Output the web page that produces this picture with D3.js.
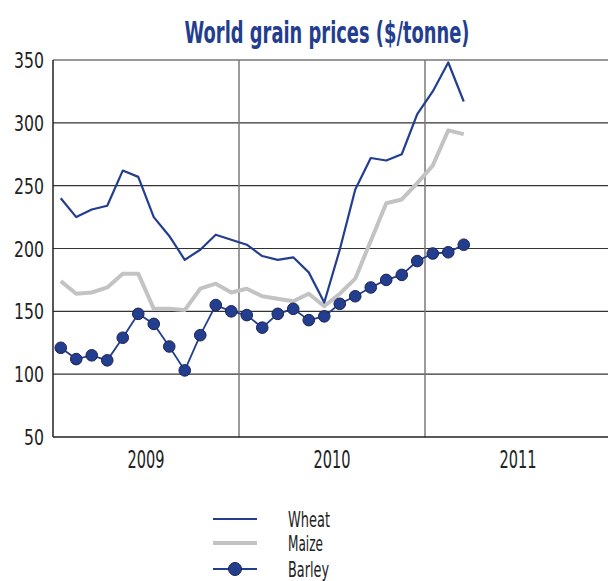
<!DOCTYPE html>
<html><head><meta charset="utf-8">
<script src="https://cdn.jsdelivr.net/npm/d3@7"></script>
<style>
body{margin:0;background:#fff;}
text{font-family:"DejaVu Sans",sans-serif;}
</style></head>
<body><svg id="c" width="608" height="581"></svg>
<script>
const years = ["2009","2010","2011"];
const yTicks = [50,100,150,200,250,300,350];
// monthly values, Jan 2009 .. Mar 2011
const wheat = [240,225,231,234,262,257,225,210,191,199,211,207,203,194,191,193,181,157,199,247,272,270,275,307,325,348,317];
const maize = [174,164,165,169,180,180,152,152,151,168,172,165,168,162,160,158,164,154,164,176,206,236,239,252,266,294,291];
const barley = [121,112,115,111,129,148,140,122,103,131,155,150,147,137,148,152,143,146,156,162,169,175,179,190,196,197,203];
const seriesNames = ["Wheat","Maize","Barley"];

const blue = "#233e8e";
const svg = d3.select("#c");
const L = 53, R = 608, T = 60, B = 437;
const x = d3.scaleLinear().domain([0,36]).range([L, 611]);
const y = d3.scaleLinear().domain([50,350]).range([B, T]);

// condensed text: scale horizontally to a target width
function condensed(g, px, py, str, size, w, anchor, attrs){
  const t = g.append("text").attr("x",0).attr("y",0).attr("font-size",size)
    .attr("text-anchor", anchor).text(str);
  Object.entries(attrs||{}).forEach(([k,v])=>t.attr(k,v));
  const natural = t.node().getComputedTextLength();
  t.attr("transform", `translate(${px},${py}) scale(${w/natural},1)`);
  return t;
}

// gridlines
svg.append("g").selectAll("line").data(yTicks.slice(1)).join("line")
  .attr("x1", L).attr("x2", R).attr("y1", d=>y(d)).attr("y2", d=>y(d))
  .attr("stroke", "#333").attr("stroke-width", 1.2);
// year separators
svg.append("g").selectAll("line").data([12,24]).join("line")
  .attr("x1", d=>x(d)).attr("x2", d=>x(d)).attr("y1", T).attr("y2", B)
  .attr("stroke", "#7a7a7a").attr("stroke-width", 1.5);
// axes lines
svg.append("line").attr("x1", L).attr("x2", L).attr("y1", T).attr("y2", B).attr("stroke","#222").attr("stroke-width",1.5);
svg.append("line").attr("x1", L).attr("x2", R).attr("y1", B).attr("y2", B).attr("stroke","#222").attr("stroke-width",1.5);

// y labels
const gy = svg.append("g");
yTicks.forEach(d=>condensed(gy, 44, y(d)+8, String(d), 22, String(d).length*10, "end", {fill:"#222"}));
// year labels
const gx = svg.append("g");
years.forEach((d,i)=>condensed(gx, x(i*12+6), 468, d, 25, 37, "middle", {fill:"#222"}));

// title
condensed(svg, 327, 43, "World grain prices ($/tonne)", 30, 285, "middle",
  {"font-weight":"bold", fill: blue});

const line = d3.line().x((d,i)=>x(i+0.5)).y(d=>y(d));
svg.append("path").datum(maize).attr("d", line).attr("fill","none")
  .attr("stroke","#c3c3c3").attr("stroke-width",4).attr("stroke-linejoin","round");
svg.append("path").datum(wheat).attr("d", line).attr("fill","none")
  .attr("stroke",blue).attr("stroke-width",2.2).attr("stroke-linejoin","round");
svg.append("path").datum(barley).attr("d", line).attr("fill","none")
  .attr("stroke",blue).attr("stroke-width",1.8);
svg.append("g").selectAll("circle").data(barley).join("circle")
  .attr("cx",(d,i)=>x(i+0.5)).attr("cy", d=>y(d)).attr("r",5.8)
  .attr("fill",blue).attr("stroke","#1c2450").attr("stroke-width",1);

// legend
const lg = svg.append("g");
const ly = [519, 543, 569];
const lw = [42, 35, 41];
seriesNames.forEach((n,i)=>{
  lg.append("line").attr("x1",213).attr("x2",257).attr("y1",ly[i]).attr("y2",ly[i])
    .attr("stroke", i===1 ? "#c3c3c3" : blue).attr("stroke-width", i===1 ? 4 : 2);
  if(i===2) lg.append("circle").attr("cx",235).attr("cy",ly[i]).attr("r",6.5)
    .attr("fill",blue).attr("stroke","#1c2450").attr("stroke-width",1);
  condensed(lg, 288, ly[i]+8, n, 22, lw[i], "start", {fill:"#222"});
});
</script></body></html>
